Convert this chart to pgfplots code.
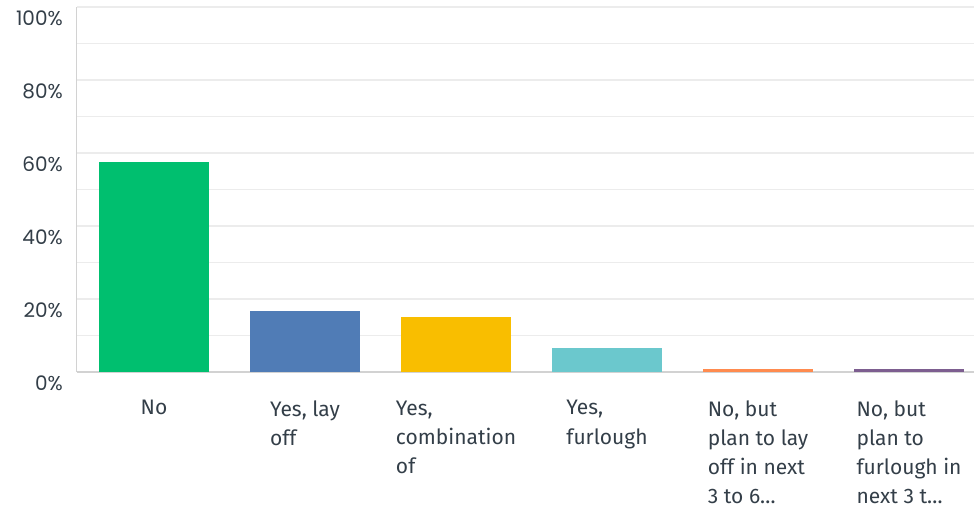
\documentclass[border=0pt]{standalone}
\usepackage{pgfplots}
\pgfplotsset{compat=1.18}
\usepackage{fontspec}
\setmainfont{Fira Sans}
\newfontfamily\tickfont{Poppins}
\definecolor{cGreen}{RGB}{0,191,111}
\definecolor{cBlue}{RGB}{80,124,182}
\definecolor{cYellow}{RGB}{249,190,0}
\definecolor{cTeal}{RGB}{107,200,205}
\definecolor{cOrange}{RGB}{255,139,79}
\definecolor{cPurple}{RGB}{125,94,144}
\definecolor{txt}{RGB}{51,62,72}
\definecolor{gridc}{RGB}{236,236,236}
\definecolor{axc}{RGB}{210,210,210}
\begin{document}
\begin{tikzpicture}
\useasboundingbox (-77pt,-138pt) rectangle (897pt,372pt);
\begin{axis}[
  scale only axis, width=897pt, height=365pt,
  xmin=-0.51, xmax=5.43, ymin=0, ymax=100,
  axis x line*=bottom, axis y line*=left,
  x axis line style={draw=axc, line width=1.6pt},
  y axis line style={draw=axc, line width=1pt},
  major tick length=0pt, minor tick length=0pt,
  ytick={0,20,40,60,80,100}, minor ytick={10,30,50,70,90},
  ymajorgrids, yminorgrids,
  major grid style={draw=gridc, line width=1.3pt},
  minor grid style={draw=gridc, line width=1.3pt},
  yticklabel={\pgfmathprintnumber{\tick}\%},
  /pgf/number format/assume math mode=true,
  yticklabel style={anchor=east, xshift=-10.7pt, yshift=-11.5pt, font=\tickfont\fontsize{20}{24}\selectfont, text=txt},
  xtick={0,1,2,3,4,5},
  xticklabels={No, {Yes, lay\\off}, {Yes,\\combination\\of}, {Yes,\\furlough}, {No, but\\plan to lay\\off in next\\3 to 6\ldots}, {No, but\\plan to\\furlough in\\next 3 t\ldots}},
  xticklabel style={anchor=north, yshift=-25pt, align=left, font=\fontsize{21}{29}\selectfont, text=txt},
  clip=false,
]
\addplot[ybar, bar width=110pt, fill=cGreen, draw=none] coordinates {(0,57.5)};
\addplot[ybar, bar width=110pt, fill=cBlue, draw=none] coordinates {(1,16.7)};
\addplot[ybar, bar width=110pt, fill=cYellow, draw=none] coordinates {(2,15.1)};
\addplot[ybar, bar width=110pt, fill=cTeal, draw=none] coordinates {(3,6.6)};
\addplot[ybar, bar width=110pt, fill=cOrange, draw=none] coordinates {(4,0.7)};
\addplot[ybar, bar width=110pt, fill=cPurple, draw=none] coordinates {(5,0.7)};
\end{axis}
\end{tikzpicture}
\end{document}
